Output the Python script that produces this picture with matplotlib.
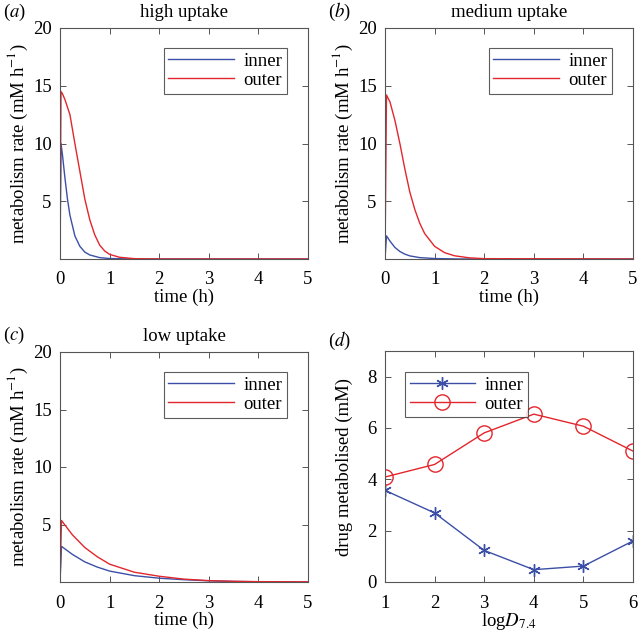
import matplotlib
matplotlib.use("Agg")
import matplotlib.pyplot as plt

plt.rcParams['font.family'] = ['Liberation Serif', 'DejaVu Serif']
plt.rcParams['mathtext.fontset'] = 'stix'
plt.rcParams['font.size'] = 12.5

BLUE = '#3b4fa6'
RED = '#e3262d'

# ---- panel (a) high uptake ----
a_t_inner = [0, 0.02, 0.05, 0.1, 0.15, 0.2, 0.3, 0.4, 0.5, 0.6, 0.8, 1.0, 1.5, 5.0]
a_inner = [0, 10.0, 9.0, 7.0, 5.2, 3.8, 2.0, 1.1, 0.6, 0.35, 0.12, 0.04, 0.0, 0.0]
a_t_outer = [0, 0.02, 0.05, 0.1, 0.2, 0.3, 0.4, 0.5, 0.6, 0.7, 0.8, 0.9, 1.0, 1.2, 1.5, 2.0, 5.0]
a_outer = [0, 14.5, 14.3, 13.8, 12.5, 10.0, 7.6, 5.2, 3.4, 2.1, 1.2, 0.7, 0.4, 0.15, 0.03, 0.0, 0.0]

# ---- panel (b) medium uptake ----
b_t_inner = [0, 0.03, 0.1, 0.2, 0.3, 0.4, 0.5, 0.7, 1.0, 1.5, 5.0]
b_inner = [0, 2.0, 1.55, 1.0, 0.65, 0.42, 0.27, 0.12, 0.04, 0.0, 0.0]
b_t_outer = [0, 0.03, 0.1, 0.2, 0.3, 0.4, 0.5, 0.6, 0.7, 0.8, 1.0, 1.2, 1.4, 1.7, 2.0, 5.0]
b_outer = [0, 14.2, 13.6, 12.0, 10.0, 7.8, 5.8, 4.3, 3.1, 2.2, 1.1, 0.55, 0.28, 0.1, 0.03, 0.0]

# ---- panel (c) low uptake ----
c_t = [0, 0.03, 0.25, 0.5, 0.75, 1.0, 1.5, 2.0, 2.5, 3.0, 3.5, 4.0, 5.0]
c_inner = [0, 3.1, 2.4, 1.75, 1.3, 0.95, 0.55, 0.33, 0.2, 0.1, 0.05, 0.02, 0.0]
c_outer = [0, 5.35, 4.1, 3.0, 2.2, 1.55, 0.85, 0.5, 0.25, 0.12, 0.06, 0.03, 0.01]

# ---- panel (d) drug metabolised vs logD7.4 ----
d_logD = [1, 2, 3, 4, 5, 6]
d_inner = [3.57, 2.69, 1.23, 0.48, 0.62, 1.60]
d_outer = [4.09, 4.58, 5.81, 6.54, 6.07, 5.10]

titles = ['high uptake', 'medium uptake', 'low uptake']
letters = ['a', 'b', 'c', 'd']

W, H = 642, 634
fig = plt.figure(figsize=(W / 100, H / 100), dpi=100)

def rect(x0, y0, x1, y1):
    return [x0 / W, 1 - y1 / H, (x1 - x0) / W, (y1 - y0) / H]

boxes = [rect(60, 28, 308, 259), rect(385, 28, 633, 259),
         rect(60, 352, 308, 582), rect(385, 351, 633, 582)]

def style(ax):
    for s in ax.spines.values():
        s.set_color('#555555')
        s.set_linewidth(0.8)
    ax.tick_params(direction='in', top=True, right=True, length=4,
                   width=0.7, color='#555555', labelsize=13.5)
    ax.tick_params(axis='x', pad=9)
    ax.tick_params(axis='y', pad=6)

def legend(ax, loc, anchor):
    leg = ax.legend(loc=loc, bbox_to_anchor=anchor, fontsize=13.5,
                    frameon=True, fancybox=False, edgecolor='#333333',
                    handlelength=3.5, handletextpad=0.5, borderpad=0.25,
                    labelspacing=0.1, borderaxespad=0)
    leg.get_frame().set_linewidth(0.8)

series = [(a_t_inner, a_inner, a_t_outer, a_outer),
          (b_t_inner, b_inner, b_t_outer, b_outer),
          (c_t, c_inner, c_t, c_outer)]

for i in range(3):
    ax = fig.add_axes(boxes[i])
    ti, yi, to, yo = series[i]
    ax.plot(ti, yi, color=BLUE, lw=1.0, label='inner')
    ax.plot(to, yo, color=RED, lw=1.0, label='outer')
    ax.set_xlim(0, 5)
    ax.set_ylim(0, 20)
    ax.set_xticks([0, 1, 2, 3, 4, 5])
    ax.set_yticks([5, 10, 15, 20])
    style(ax)
    ax.set_xlabel('time (h)', fontsize=13.5, labelpad=0)
    ax.set_ylabel('metabolism rate (mM h$^{-1}$)', fontsize=13.5, labelpad=2)
    ax.set_title(titles[i], fontsize=13.5, pad=8)
    legend(ax, 'upper right', (0.915, 0.913))

ax = fig.add_axes(boxes[3])
ax.plot(d_logD, d_inner, color=BLUE, lw=1.0, marker=(6, 2, 0), ms=9,
        mew=1.0, label='inner')
ax.plot(d_logD, d_outer, color=RED, lw=1.0, marker='o', ms=11,
        mfc='none', mew=1.0, label='outer')
ax.set_xlim(1, 6)
ax.set_ylim(0, 9)
ax.set_xticks(d_logD)
ax.set_yticks([0, 2, 4, 6, 8])
style(ax)
ax.set_xlabel('log$\\mathit{D}_{7.4}$', fontsize=13.5, labelpad=0)
ax.set_ylabel('drug metabolised (mM)', fontsize=13.5, labelpad=10)
legend(ax, 'upper left', (0.08, 0.91))

# panel letters
letter_pos = [(3, 12), (328, 12), (3, 335), (328, 341)]
for (x, y), l in zip(letter_pos, letters):
    fig.text(x / W, 1 - y / H, '($\\mathit{%s}$)' % l, fontsize=13.5,
             va='center', ha='left')

fig.savefig('out.png', dpi=100)
